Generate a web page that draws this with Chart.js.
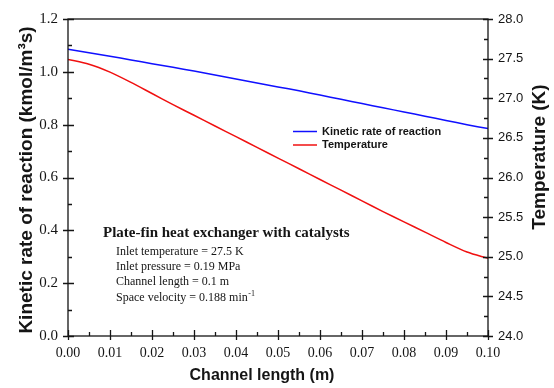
<!DOCTYPE html>
<html><head><meta charset="utf-8">
<script src="https://cdn.jsdelivr.net/npm/chart.js@4/dist/chart.umd.min.js"></script>
<style>html,body{margin:0;padding:0;background:#fff;}#wrap{width:554px;height:388px;}</style>
</head><body><div id="wrap"><canvas id="c" width="554" height="388"></canvas></div>
<script>
// ---- data ----
const channelLength = [0.000,0.005,0.010,0.015,0.020,0.025,0.030,0.035,0.040,0.045,0.050,0.055,0.060,0.065,0.070,0.075,0.080,0.085,0.090,0.095,0.100];
const kineticRate   = [1.086,1.0725,1.059,1.045,1.031,1.017,1.003,0.988,0.973,0.958,0.943,0.928,0.912,0.896,0.880,0.864,0.848,0.832,0.816,0.800,0.785];
const temperature   = [27.49,27.43,27.33,27.20,27.06,26.92,26.785,26.65,26.515,26.38,26.245,26.11,25.975,25.84,25.705,25.57,25.44,25.31,25.18,25.06,24.98];
const xTickValues   = [0,0.01,0.02,0.03,0.04,0.05,0.06,0.07,0.08,0.09,0.10];
const yTickValues   = [0,0.2,0.4,0.6,0.8,1.0,1.2];
const y1TickValues  = [24,24.5,25,25.5,26,26.5,27,27.5,28];
const seriesNames   = ['Kinetic rate of reaction','Temperature'];
const xTitle  = 'Channel length (m)';
const yTitle  = 'Kinetic rate of reaction (kmol/m\u00B3s)';
const y1Title = 'Temperature (K)';
const noteTitle = 'Plate-fin heat exchanger with catalysts';
const noteLines = ['Inlet temperature = 27.5 K','Inlet pressure = 0.19 MPa','Channel length = 0.1 m','Space velocity = 0.188 min'];
const noteSup = '-1';

const BLUE = '#1010ff', RED = '#f01010', INK = '#151515';

const decor = {
  id: 'decor',
  afterDatasetsDraw(chart) {
    const ctx = chart.ctx, a = chart.chartArea;
    const sx = chart.scales.x, sy = chart.scales.y, sy1 = chart.scales.y1;
    ctx.save();
    ctx.strokeStyle = INK; ctx.lineWidth = 1.3;
    ctx.strokeRect(a.left, a.top, a.right - a.left, a.bottom - a.top);
    ctx.beginPath();
    const xv = sx.ticks.map(t => t.value);
    xv.forEach((v, i) => {
      const p = Math.round(sx.getPixelForValue(v)) + 0.5;
      ctx.moveTo(p, a.bottom + 4); ctx.lineTo(p, a.bottom - 6);
      if (i < xv.length - 1) {
        const m = Math.round(sx.getPixelForValue((v + xv[i + 1]) / 2)) + 0.5;
        ctx.moveTo(m, a.bottom); ctx.lineTo(m, a.bottom - 4);
      }
    });
    const yv = sy.ticks.map(t => t.value);
    yv.forEach((v, i) => {
      const p = Math.round(sy.getPixelForValue(v)) + 0.5;
      ctx.moveTo(a.left - 5, p); ctx.lineTo(a.left + 6, p);
      if (i < yv.length - 1) {
        const m = Math.round(sy.getPixelForValue((v + yv[i + 1]) / 2)) + 0.5;
        ctx.moveTo(a.left, m); ctx.lineTo(a.left + 4, m);
      }
    });
    const rv = sy1.ticks.map(t => t.value);
    rv.forEach((v, i) => {
      const p = Math.round(sy1.getPixelForValue(v)) + 0.5;
      ctx.moveTo(a.right - 5, p); ctx.lineTo(a.right + 5, p);
      if (i < rv.length - 1) {
        const m = Math.round(sy1.getPixelForValue((v + rv[i + 1]) / 2)) + 0.5;
        ctx.moveTo(a.right - 4, m); ctx.lineTo(a.right, m);
      }
    });
    ctx.stroke();

    ctx.fillStyle = INK; ctx.textBaseline = 'middle'; ctx.textAlign = 'center';
    ctx.font = 'bold 16px "Liberation Sans", Arial, sans-serif';
    ctx.fillText(xTitle, 262, 376);
    ctx.font = 'bold 19px "Liberation Sans", Arial, sans-serif';
    ctx.save(); ctx.translate(27, 180); ctx.rotate(-Math.PI / 2); ctx.fillText(yTitle, 0, 0); ctx.restore();
    ctx.save(); ctx.translate(540, 157); ctx.rotate(-Math.PI / 2); ctx.fillText(y1Title, 0, 0); ctx.restore();

    ctx.textAlign = 'left';
    ctx.font = 'bold 11px "Liberation Sans", Arial, sans-serif';
    chart.data.datasets.forEach((ds, i) => {
      const yy = 131.5 + i * 13.5;
      ctx.strokeStyle = ds.borderColor; ctx.lineWidth = 1.5;
      ctx.beginPath(); ctx.moveTo(293, yy); ctx.lineTo(317, yy); ctx.stroke();
      ctx.fillStyle = INK; ctx.fillText(ds.label, 322, yy);
    });

    ctx.fillStyle = INK;
    ctx.font = 'bold 15px "Liberation Serif", "Times New Roman", serif';
    ctx.fillText(noteTitle, 103, 233);
    const ys = [252, 267, 282, 298];
    noteLines.forEach((t, i) => {
      ctx.font = '12px "Liberation Serif", "Times New Roman", serif';
      ctx.fillText(t, 116, ys[i]);
      if (i === noteLines.length - 1) {
        const w = ctx.measureText(t).width;
        ctx.font = '8px "Liberation Serif", "Times New Roman", serif';
        ctx.fillText(noteSup, 116 + w + 0.5, ys[i] - 4);
      }
    });
    ctx.restore();
  }
};

const serif = '"Liberation Serif", "Times New Roman", serif';
const sans = '"Liberation Sans", Arial, sans-serif';

new Chart(document.getElementById('c'), {
  type: 'line',
  data: {
    datasets: [
      { label: seriesNames[0], data: channelLength.map((x, i) => ({ x, y: kineticRate[i] })), yAxisID: 'y',
        borderColor: BLUE, borderWidth: 1.5, pointRadius: 0, tension: 0.3, fill: false },
      { label: seriesNames[1], data: channelLength.map((x, i) => ({ x, y: temperature[i] })), yAxisID: 'y1',
        borderColor: RED, borderWidth: 1.5, pointRadius: 0, tension: 0.3, fill: false }
    ]
  },
  options: {
    responsive: false, animation: false, devicePixelRatio: 1,
    layout: { padding: { top: 15, left: 0, right: 0, bottom: 0 } },
    plugins: { legend: { display: false }, tooltip: { enabled: false } },
    scales: {
      x: {
        type: 'linear', min: 0, max: 0.1,
        afterBuildTicks: s => { s.ticks = xTickValues.map(v => ({ value: v })); },
        afterFit: s => { s.height = 52; },
        grid: { display: false, drawTicks: false }, border: { display: false },
        ticks: { autoSkip: false, maxRotation: 0, padding: 9, color: INK, font: { family: serif, size: 14 },
                 callback: v => Number(v).toFixed(2) }
      },
      y: {
        position: 'left', min: 0, max: 1.2,
        afterBuildTicks: s => { s.ticks = yTickValues.map(v => ({ value: v })); },
        afterFit: s => { s.width = 68; },
        grid: { display: false, drawTicks: false }, border: { display: false },
        ticks: { padding: 10, color: INK, font: { family: serif, size: 15 }, callback: v => Number(v).toFixed(1) }
      },
      y1: {
        position: 'right', min: 24, max: 28,
        afterBuildTicks: s => { s.ticks = y1TickValues.map(v => ({ value: v })); },
        afterFit: s => { s.width = 66; },
        grid: { display: false, drawTicks: false }, border: { display: false },
        ticks: { padding: 10, color: INK, font: { family: sans, size: 13 }, callback: v => Number(v).toFixed(1) }
      }
    }
  },
  plugins: [decor]
});
</script>
</body></html>
